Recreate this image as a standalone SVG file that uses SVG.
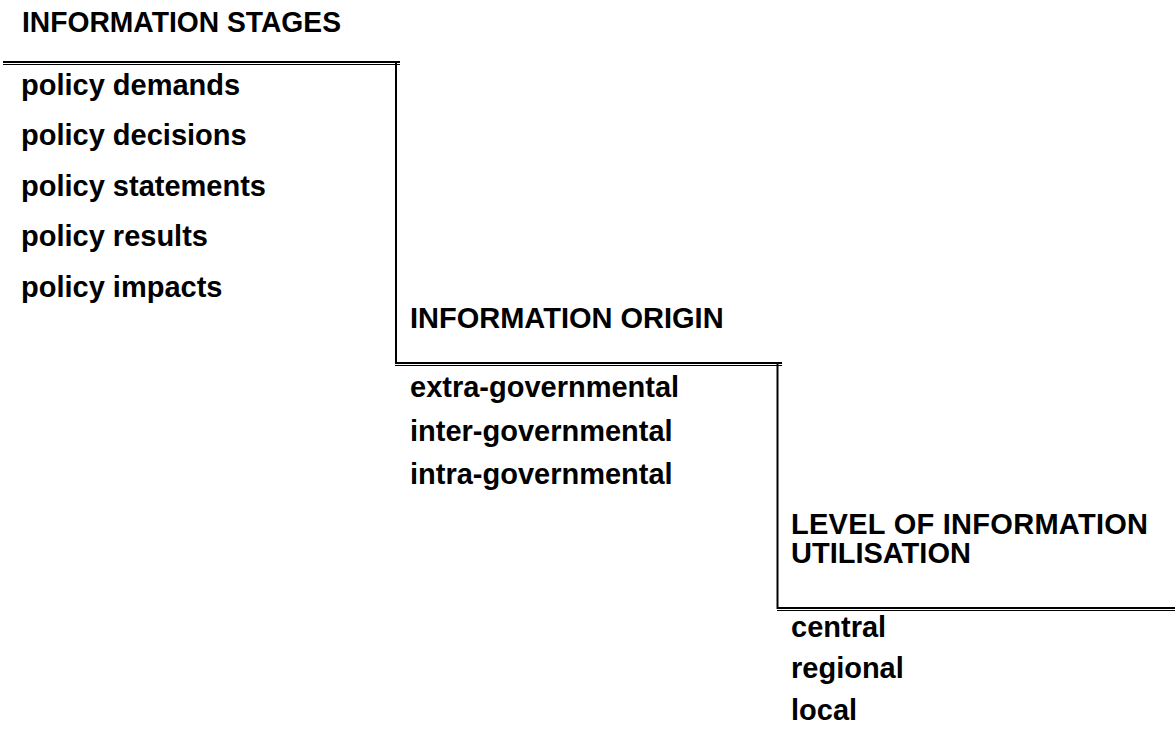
<svg xmlns="http://www.w3.org/2000/svg" width="1175" height="744" viewBox="0 0 1175 744">
<style>
text{font-family:"Liberation Sans",Arial,sans-serif;font-weight:bold;font-size:29px;fill:#000}
.rule{stroke:#000;fill:none;stroke-width:2}
.thin{stroke:#000;fill:none;stroke-width:1}
</style>
<rect width="1175" height="744" fill="#fff"/>
<g id="connectors">
<line class="rule" x1="3" y1="62" x2="400" y2="62"/>
<line class="thin" x1="3" y1="64.5" x2="400" y2="64.5"/>
<line class="rule" x1="396" y1="63" x2="396" y2="364"/>
<line class="rule" x1="395" y1="363" x2="782" y2="363"/>
<line class="thin" x1="395" y1="365.5" x2="782" y2="365.5"/>
<line class="rule" x1="777.5" y1="364" x2="777.5" y2="609"/>
<line class="rule" x1="777" y1="608" x2="1175" y2="608"/>
<line class="thin" x1="777" y1="610.5" x2="1175" y2="610.5"/>
</g>
<g id="stages">
<text x="22" y="32" textLength="319" lengthAdjust="spacingAndGlyphs">INFORMATION STAGES</text>
<text x="21" y="95">policy demands</text>
<text x="21" y="145">policy decisions</text>
<text x="21" y="196">policy statements</text>
<text x="21" y="246">policy results</text>
<text x="21" y="297">policy impacts</text>
</g>
<g id="origin">
<text x="410" y="328">INFORMATION ORIGIN</text>
<text x="410" y="397">extra-governmental</text>
<text x="410" y="441">inter-governmental</text>
<text x="410" y="484">intra-governmental</text>
</g>
<g id="level">
<text x="791" y="534" textLength="357" lengthAdjust="spacing">LEVEL OF INFORMATION</text>
<text x="791" y="563">UTILISATION</text>
<text x="791" y="637">central</text>
<text x="791" y="678">regional</text>
<text x="791" y="720">local</text>
</g>
</svg>
